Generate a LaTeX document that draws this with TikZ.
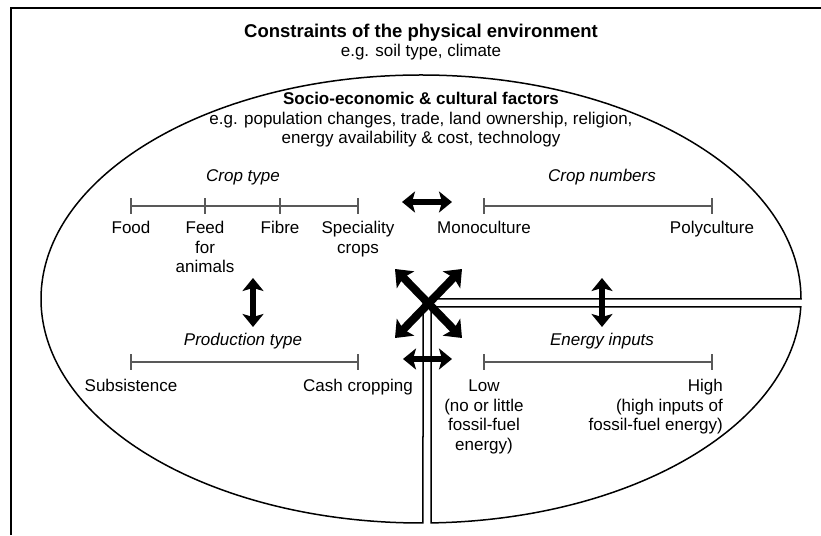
\documentclass[tikz,border=0pt]{standalone}
\usepackage{fontspec}
\setmainfont{Liberation Sans}
\usetikzlibrary{arrows.meta}
\begin{document}
\begin{tikzpicture}[x=1pt,y=1pt,
  txt/.style={font=\fontsize{17}{19.5}\selectfont, inner sep=0pt, anchor=base, align=center},
  hdr/.style={txt, font=\fontsize{17}{19.5}\selectfont\itshape},
  scaleline/.style={draw=black!65, line width=1.1pt},
  tickmark/.style={draw=black!65, line width=1.1pt},
  bigarrow/.style={line width=6pt, {Stealth[length=13pt,width=21pt,inset=3pt]}-{Stealth[length=13pt,width=21pt,inset=3pt]}},
  xarrow/.style={line width=8pt, {Stealth[length=15pt,width=24pt,inset=3pt]}-{Stealth[length=15pt,width=24pt,inset=3pt]}},
  outline/.style={line width=1.5pt, line join=miter},
  frame/.style={line width=2pt}]
\useasboundingbox (0,0) rectangle (821,535);

% frame (left and top edges)
\coordinate (fbl) at (11,0);
\coordinate (ftl) at (11,527);
\coordinate (ftr) at (821,527);
\draw[frame] (fbl) -- (ftl) -- (ftr);

% titles (base anchor = baseline of last line)
\node[txt] (phys) at (421,478) {{\fontsize{18.5}{19.5}\selectfont\bfseries Constraints of the physical environment}\\e.g. soil type, climate};
\node[txt] (socio) at (421,391) {\textbf{Socio-economic \& cultural factors}\\e.g. population changes, trade, land ownership, religion,\\energy availability \& cost, technology};

% ellipse divided into two regions
\coordinate (cornerA) at (423,236);
\coordinate (cornerB) at (431,228);
\draw[outline] (cornerA) -- (801,236) arc[start angle=0, end angle=270.3, x radius=380pt, y radius=224pt] -- cycle;
\draw[outline] (cornerB) -- (800.76,228) arc[start angle=-2.047, end angle=-88.49, x radius=380pt, y radius=224pt] -- cycle;

% Crop type scale
\node[hdr] (croptype) at (243,353) {Crop type};
\coordinate (ct1) at (131,329);
\coordinate (ct2) at (205,329);
\coordinate (ct3) at (280,329);
\coordinate (ct4) at (358,329);
\draw[scaleline] (ct1) -- (ct4);
\foreach \c in {ct1,ct2,ct3,ct4} \draw[tickmark] (\c) ++(0,-8) -- ++(0,16);
\node[txt] (food) at (131,301) {Food};
\node[txt] (feed) at (205,262) {Feed\\for\\animals};
\node[txt] (fibre) at (280,301) {Fibre};
\node[txt] (spec) at (358,281.5) {Speciality\\crops};

% Crop numbers scale
\node[hdr] (cropnum) at (602,353) {Crop numbers};
\coordinate (cn1) at (484,329);
\coordinate (cn2) at (712,329);
\draw[scaleline] (cn1) -- (cn2);
\foreach \c in {cn1,cn2} \draw[tickmark] (\c) ++(0,-8) -- ++(0,16);
\node[txt] (mono) at (484,301) {Monoculture};
\node[txt] (poly) at (712,301) {Polyculture};

% Production type scale
\node[hdr] (prodtype) at (243,189) {Production type};
\coordinate (pt1) at (131,173);
\coordinate (pt2) at (358,173);
\draw[scaleline] (pt1) -- (pt2);
\foreach \c in {pt1,pt2} \draw[tickmark] (\c) ++(0,-8) -- ++(0,16);
\node[txt] (subs) at (131,143) {Subsistence};
\node[txt] (cash) at (358,143) {Cash cropping};

% Energy inputs scale
\node[hdr] (energy) at (602,189) {Energy inputs};
\coordinate (ei1) at (484,173);
\coordinate (ei2) at (712,173);
\draw[scaleline] (ei1) -- (ei2);
\foreach \c in {ei1,ei2} \draw[tickmark] (\c) ++(0,-8) -- ++(0,16);
\node[txt] (low) at (484,84.5) {Low\\(no or little\\fossil-fuel\\energy)};
\node[txt, align=right, anchor=base east] (high) at (723,104) {High\\(high inputs of\\fossil-fuel energy)};

% arrows
\coordinate (ha1) at (402,333);
\coordinate (ha2) at (452,333);
\draw[bigarrow] (ha1) -- (ha2);
\coordinate (hb1) at (403,176);
\coordinate (hb2) at (452,176);
\draw[bigarrow] (hb1) -- (hb2);
\coordinate (va1) at (253,257);
\coordinate (va2) at (253,208);
\draw[bigarrow] (va1) -- (va2);
\coordinate (vb1) at (602,257);
\coordinate (vb2) at (602,208);
\draw[bigarrow] (vb1) -- (vb2);
\coordinate (xa1) at (395,266);
\coordinate (xa2) at (462,197);
\coordinate (xb1) at (462,266);
\coordinate (xb2) at (395,197);
\draw[xarrow] (xa1) -- (xa2);
\draw[xarrow] (xb1) -- (xb2);
\end{tikzpicture}
\end{document}
